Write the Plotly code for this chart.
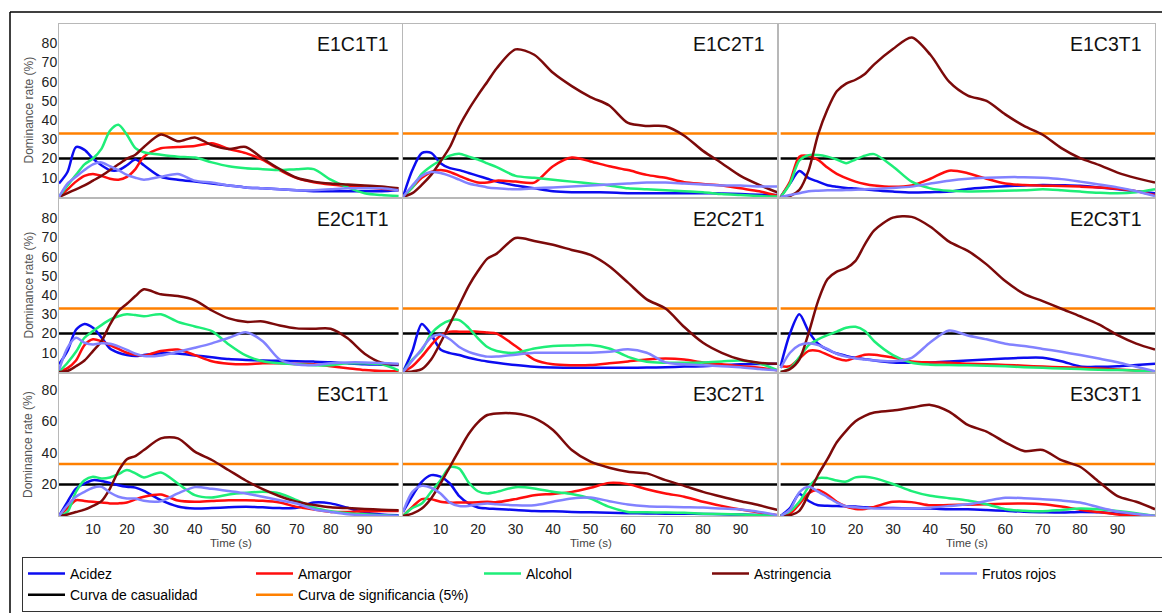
import plotly.graph_objects as go

# ---------------- data ----------------
TIME = [0, 2.5, 5, 7.5, 10, 12.5, 15, 17.5, 20, 22.5, 25, 30, 35, 40, 45,
        50, 55, 60, 65, 70, 75, 80, 85, 90, 95, 100]

SERIES = ["Acidez", "Amargor", "Alcohol", "Astringencia", "Frutos rojos"]
CHANCE_NAME = "Curva de casualidad"
SIGNIF_NAME = "Curva de significancia (5%)"
CHANCE_LEVEL = 20
SIGNIF_LEVEL = 33

PANELS = [["E1C1T1", "E1C2T1", "E1C3T1"],
          ["E2C1T1", "E2C2T1", "E2C3T1"],
          ["E3C1T1", "E3C2T1", "E3C3T1"]]

Y_TICKS_TOP = [10, 20, 30, 40, 50, 60, 70, 80]
Y_TICKS_BOTTOM = [20, 40, 60, 80]
X_TICKS = [10, 20, 30, 40, 50, 60, 70, 80, 90]

E1C1T1_ACIDEZ = [7, 13, 26, 24.5, 20, 16.5, 14, 14, 16.5, 19.5, 16.5, 10.5, 9, 8, 7, 6, 5, 4.5, 4, 3.5, 3, 3, 3, 3, 3, 3.5]
E1C1T1_AMARGOR = [0, 4, 8, 11, 12, 11, 9.5, 9, 10.5, 14.5, 21, 25.4, 26, 26.5, 28, 25, 22.8, 19.3, 14, 9.8, 7.7, 6.5, 5.7, 5, 4.3, 3.7]
E1C1T1_ALCOHOL = [0, 6, 11.5, 17, 20, 25, 34.5, 37.6, 32.4, 25.4, 23.3, 22, 21, 20.5, 18, 16, 15, 14.5, 14, 14.5, 14.5, 9, 5, 2, 1, 0.5]
E1C1T1_ASTRINGENCIA = [0, 2, 4, 6, 8.5, 11, 14, 17, 20, 22, 26, 32.5, 29, 31, 27, 25, 26, 20, 14.5, 10, 8, 7, 6.5, 6, 5.5, 4.5]
E1C1T1_FRUTOS = [0, 7, 10.5, 14, 17, 18, 16, 14, 11.5, 10, 9, 10.5, 12, 8.5, 7.5, 6, 5, 4.5, 4, 3.5, 3.5, 4, 4.5, 4.5, 4.5, 3.5]

E1C2T1_ACIDEZ = [0, 14, 22.8, 23, 17.6, 15, 14, 12.5, 11, 9.5, 8, 6, 4.5, 3, 2.5, 2.5, 2.3, 2, 2, 2, 2, 2, 1.8, 1.5, 1.2, 1]
E1C2T1_AMARGOR = [0, 5, 10, 13, 14, 13, 11, 9, 7.5, 7.5, 8.5, 8, 7.5, 16, 20.5, 18.5, 16, 14, 11.5, 10, 7.7, 6.8, 6, 4.5, 3, 0.5]
E1C2T1_ALCOHOL = [0, 5, 12, 16, 19, 21.5, 22.5, 21, 19.5, 17.5, 15.5, 11, 10, 9, 8, 7, 6, 4.5, 4, 3.5, 3, 2.5, 1.5, 1, 0.5, 0.2]
E1C2T1_ASTRINGENCIA = [0, 2, 6.3, 11.5, 18.5, 26, 36.8, 45.5, 53, 60, 67, 76.8, 74, 64.6, 57.7, 52, 47.6, 38.5, 37, 36.8, 31.9, 24, 17.6, 11, 6.3, 2.3]
E1C2T1_FRUTOS = [0, 6, 11, 13, 12.5, 11, 9, 7, 6, 5, 4.5, 4, 4.5, 5, 5.5, 6, 6.5, 7, 7.5, 7.5, 7, 6.5, 6, 6, 5.5, 5.5]

E1C3T1_ACIDEZ = [0, 7, 13.5, 9.8, 8, 6.1, 5.3, 4.7, 4.4, 4, 3.5, 2.8, 2.3, 2.5, 2.8, 4.2, 5, 5.6, 6, 6.3, 6.1, 5.8, 5, 4, 3, 1.9]
E1C3T1_AMARGOR = [0, 8, 21, 21.4, 19.3, 15.3, 12, 9.8, 8, 6.8, 6, 5.3, 6, 9.5, 13.7, 12.4, 9.5, 7, 6.2, 5.9, 5.7, 5.4, 5, 4.3, 3, 1]
E1C3T1_ALCOHOL = [0, 7, 19, 21.8, 21.8, 21, 19.5, 17.6, 19.5, 21.5, 22.3, 15.9, 8, 4.5, 3.2, 2.9, 3, 3.2, 3.5, 4, 3.5, 2.8, 2.2, 1.9, 2.5, 4]
E1C3T1_ASTRINGENCIA = [0, 0.5, 3.7, 14, 32.4, 45.5, 55, 59, 61, 64, 69, 77, 83, 74, 60, 52.8, 50, 43, 37, 32.4, 25.4, 20.2, 16.7, 12.7, 9.8, 7.5]
E1C3T1_FRUTOS = [0, 1, 2, 3, 3.3, 3.5, 3.5, 3.6, 3.8, 4, 4.2, 4.7, 5.4, 7, 8.5, 9.5, 10, 10.3, 10.3, 10, 9.3, 8, 6.5, 5, 3, 0.5]

E2C1T1_ACIDEZ = [4, 11, 22, 25, 23, 18, 12.2, 10, 8.8, 8.3, 8.8, 9.8, 9.6, 8.6, 7.7, 6.7, 6.3, 6, 5.8, 5.6, 5.4, 5.1, 4.5, 4, 3.8, 3.6]
E2C1T1_AMARGOR = [0, 2, 6, 14, 17, 16, 14, 12, 10, 9, 8.5, 10.9, 11.7, 8.8, 5.6, 4.3, 4, 4.5, 4.5, 4.2, 4, 3, 2, 1, 0.5, 0.4]
E2C1T1_ALCOHOL = [0, 4.8, 10.5, 17.8, 21.3, 24.4, 27.2, 29, 30, 29.6, 29, 30, 26.1, 23.7, 21.3, 14.3, 8.6, 5.6, 4.5, 4, 3.5, 3.5, 4.5, 4.5, 4, 0.8]
E2C1T1_ASTRINGENCIA = [0, 0.5, 3, 6, 10.9, 16, 24.7, 31.7, 35.5, 39.5, 43, 40.4, 39.5, 37.3, 32, 27.9, 26.1, 26.3, 24.2, 22.7, 22.5, 22.5, 17.5, 9.5, 4.8, 3.9]
E2C1T1_FRUTOS = [1, 12.6, 17.8, 15.2, 14.3, 15, 14.7, 13.3, 11.5, 9.5, 8.3, 8.6, 10.5, 12.6, 14.9, 17.8, 20.7, 16, 6.5, 3.9, 3.6, 4.5, 5, 5, 4.7, 4.3]

E2C2T1_ACIDEZ = [0, 10.9, 25, 19.5, 11.7, 9.8, 8.8, 7.4, 6.3, 5.5, 4.8, 3.6, 2.7, 2.3, 2.2, 2.2, 2.2, 2.2, 2.3, 2.5, 2.8, 3, 3.5, 4, 4.2, 4.3]
E2C2T1_AMARGOR = [0, 3, 8, 14, 19, 21, 21, 21, 21, 20.5, 20, 13.5, 6.5, 4, 3.5, 3.6, 4.5, 5.5, 6.5, 7, 6.5, 5, 4, 3, 2.2, 0.8]
E2C2T1_ALCOHOL = [0, 6.5, 11.2, 19.9, 24.4, 26.8, 27, 23, 17.5, 13, 10.9, 10, 12.2, 13.5, 13.8, 14, 12.2, 7.9, 5.3, 4.8, 4.8, 5, 5.5, 6, 4.5, 0.8]
E2C2T1_ASTRINGENCIA = [0, 0.3, 1.5, 6.5, 15.2, 25, 34.8, 44.7, 52.5, 59, 61.6, 69.7, 68.2, 66.2, 63.5, 60.9, 55, 46.5, 37.8, 33, 23.4, 15.2, 10, 6.5, 4.8, 4.3]
E2C2T1_FRUTOS = [0, 6, 12, 18, 19.5, 17, 13, 10.5, 9, 8, 8, 9, 10, 10, 10, 10, 10.5, 11.8, 10, 5, 4, 3.5, 3, 2.5, 1.5, 0.8]

E2C3T1_ACIDEZ = [3, 20, 30, 21, 14.7, 11.7, 9.6, 8.4, 7.4, 6.7, 6, 5, 4.8, 5, 5.5, 6, 6.5, 7, 7.4, 7.4, 5.6, 2.9, 2.7, 3, 3.7, 4.3]
E2C3T1_AMARGOR = [3, 3, 7, 11, 11, 9, 7, 6, 7.5, 9, 9, 7.5, 5.5, 5, 4.8, 4.3, 4, 3.7, 3.3, 2.8, 2.5, 2.2, 1.8, 1.3, 0.8, 0.4]
E2C3T1_ALCOHOL = [0, 2, 7.7, 14, 17, 19.2, 21, 23, 23.5, 21.3, 16, 8.8, 4.8, 3.8, 3.6, 3.5, 3.3, 3, 2.5, 2.2, 1.8, 1.5, 1.2, 1, 0.7, 0.4]
E2C3T1_ASTRINGENCIA = [0, 1.5, 6.5, 20.4, 36.9, 48.2, 52.2, 54, 57.8, 66.4, 73.7, 80.3, 80.7, 75.6, 67.8, 63, 56, 47.3, 40.7, 36.9, 32.9, 29, 24.8, 19.2, 14.8, 11.7]
E2C3T1_FRUTOS = [2, 10, 14, 15, 14, 12, 9.5, 8, 7, 6.5, 6, 5.6, 7.4, 15.5, 21.6, 19, 17, 14.7, 13.5, 12, 10.5, 8.8, 7, 5.1, 2.7, 0.4]

E3C1T1_ACIDEZ = [0, 9, 17.4, 20.6, 22.7, 22.2, 21, 19.5, 18.5, 18, 16, 10, 6, 4.7, 5, 5.5, 5.8, 5.5, 5, 5.2, 8.5, 8, 5.2, 2.2, 1, 0.5]
E3C1T1_AMARGOR = [0, 5, 10, 9.5, 9, 8.5, 8, 8, 8.5, 10.5, 12.2, 13.6, 9.8, 9, 9.5, 10, 10, 9.6, 8.5, 5.8, 4.1, 2.6, 2.6, 3, 3.1, 3.2]
E3C1T1_ALCOHOL = [0, 2.6, 15.3, 22.7, 24.9, 23.8, 24.4, 26.5, 29.1, 27, 24.4, 27.6, 20.6, 13.2, 11.7, 13.6, 14.7, 15.3, 14.3, 10, 5.2, 3, 1.8, 1.1, 0.5, 0]
E3C1T1_ASTRINGENCIA = [0, 1, 2.5, 4, 6.4, 9.4, 17.4, 28.5, 36, 38, 41.8, 49.2, 49.2, 40.8, 35.5, 29, 22.5, 17, 12.5, 9, 7, 5.5, 5, 4.5, 4, 3.7]
E3C1T1_FRUTOS = [0, 6.8, 12.2, 15.3, 17.9, 18.5, 14.9, 12.2, 11.1, 11.1, 9.6, 9.4, 14.3, 18.3, 17.2, 15.8, 14.3, 12.2, 10, 7.9, 4.3, 2.6, 1.1, 0.5, 0.2, 0]

E3C2T1_ACIDEZ = [2.6, 12.8, 21.7, 25.9, 24.9, 20.6, 12.6, 7.9, 5.4, 4.8, 4.5, 3.8, 3.2, 3, 2.6, 2.3, 2, 1.8, 1.6, 1.5, 1.4, 1.3, 1.1, 0.9, 0.7, 0.5]
E3C2T1_AMARGOR = [0, 5.8, 10.7, 10.7, 9, 8.5, 8.5, 8.5, 8.7, 9, 8.8, 10.7, 13.2, 14, 15.3, 17.9, 21, 20.2, 17, 14.3, 12.2, 9, 6.4, 4.1, 2.2, 0.5]
E3C2T1_ALCOHOL = [0, 5.1, 7.9, 15.3, 22.7, 31, 30, 21.2, 15.7, 14.3, 15.3, 18.3, 17.5, 15.3, 14, 11.1, 5.8, 2.6, 2.3, 2.2, 2, 1.5, 1.2, 0.9, 0.5, 0]
E3C2T1_ASTRINGENCIA = [0, 1.5, 4.7, 11.1, 20.6, 31.2, 41.8, 52, 59.4, 64, 65, 64.9, 62, 54.5, 41.8, 34.4, 30.6, 28, 27, 22.7, 19.1, 15.3, 12.2, 9.4, 6.8, 3.7]
E3C2T1_FRUTOS = [2.6, 15.3, 19.1, 17.9, 14.3, 8.5, 6.4, 6.4, 7.3, 7.9, 7.5, 6.8, 6.8, 9, 11.1, 11.7, 9.4, 7.3, 6.2, 5.8, 5.6, 5.4, 4.7, 4.1, 2.6, 0.5]

E3C3T1_ACIDEZ = [0, 5, 14, 9.5, 6.8, 6.5, 6.3, 6.2, 6, 5.5, 5.2, 5, 4.8, 4.7, 4.3, 4.2, 3.8, 3.3, 2.7, 2.4, 2.2, 2.5, 2.3, 1.5, 0.8, 0]
E3C3T1_AMARGOR = [0, 1.5, 7.5, 14.5, 16.5, 13.5, 9, 6, 4.5, 4.5, 5.8, 9, 8.8, 6.8, 7, 7.2, 7.5, 7.8, 7.9, 7.5, 6, 4, 2.5, 1, 0.3, 0]
E3C3T1_ALCOHOL = [0, 3, 9, 18.5, 24, 24, 22.5, 21.8, 24.5, 24.8, 24, 20.3, 15.8, 12.8, 11.3, 9.8, 7.5, 4.3, 3.3, 3, 3.8, 4.7, 4.2, 3.2, 1.8, 0]
E3C3T1_ASTRINGENCIA = [0, 0.5, 3.3, 14, 26, 36, 46.7, 54, 60, 63.5, 65.6, 66.8, 68.7, 70.4, 66.2, 57.7, 53.5, 46.7, 41.2, 41.8, 35.4, 31.2, 21.7, 12.6, 9, 4.3]
E3C3T1_FRUTOS = [0, 4, 15, 18.5, 15.5, 12, 8.5, 6.2, 5.5, 5, 4.7, 4.7, 4.8, 5.3, 6.3, 7.4, 9.5, 11.5, 11.3, 10.6, 9.8, 8.5, 5.5, 2.8, 1.2, 0]

PANEL_DATA = {
    "E1C1T1": [E1C1T1_ACIDEZ, E1C1T1_AMARGOR, E1C1T1_ALCOHOL, E1C1T1_ASTRINGENCIA, E1C1T1_FRUTOS],
    "E1C2T1": [E1C2T1_ACIDEZ, E1C2T1_AMARGOR, E1C2T1_ALCOHOL, E1C2T1_ASTRINGENCIA, E1C2T1_FRUTOS],
    "E1C3T1": [E1C3T1_ACIDEZ, E1C3T1_AMARGOR, E1C3T1_ALCOHOL, E1C3T1_ASTRINGENCIA, E1C3T1_FRUTOS],
    "E2C1T1": [E2C1T1_ACIDEZ, E2C1T1_AMARGOR, E2C1T1_ALCOHOL, E2C1T1_ASTRINGENCIA, E2C1T1_FRUTOS],
    "E2C2T1": [E2C2T1_ACIDEZ, E2C2T1_AMARGOR, E2C2T1_ALCOHOL, E2C2T1_ASTRINGENCIA, E2C2T1_FRUTOS],
    "E2C3T1": [E2C3T1_ACIDEZ, E2C3T1_AMARGOR, E2C3T1_ALCOHOL, E2C3T1_ASTRINGENCIA, E2C3T1_FRUTOS],
    "E3C1T1": [E3C1T1_ACIDEZ, E3C1T1_AMARGOR, E3C1T1_ALCOHOL, E3C1T1_ASTRINGENCIA, E3C1T1_FRUTOS],
    "E3C2T1": [E3C2T1_ACIDEZ, E3C2T1_AMARGOR, E3C2T1_ALCOHOL, E3C2T1_ASTRINGENCIA, E3C2T1_FRUTOS],
    "E3C3T1": [E3C3T1_ACIDEZ, E3C3T1_AMARGOR, E3C3T1_ALCOHOL, E3C3T1_ASTRINGENCIA, E3C3T1_FRUTOS],
}

# ---------------- style ----------------
PAGE_W, PAGE_H = 1170, 613
OFF = 8  # default page body margin of the html page
W, H = PAGE_W - OFF, PAGE_H - OFF
COLORS = ["#0c0cf0", "#ff0d0d", "#1eee78", "#7c0a0a", "#8282ff"]
CHANCE_COLOR = "#000000"
SIGNIF_COLOR = "#ff8000"
LINE_W = 2.5
FONT = "Liberation Sans, Arial, sans-serif"
FRAME = "#b8b8b8"

# panel frames, in page pixels
COL_PX = [(59, 402), (403, 778), (778, 1155)]
ROW_PX = [(24, 197), (199, 372), (374, 516)]
X_RANGES = [[0, 101], [0, 100], [-0.7, 100]]


def px(xp):
    return (xp - OFF) / W


def py(yp):
    return 1 - (yp - OFF) / H


fig = go.Figure()
layout = {}
annotations = []

for r in range(3):
    for c in range(3):
        k = r * 3 + c
        sfx = "" if k == 0 else str(k + 1)
        xname, yname = "x" + sfx, "y" + sfx
        panel = PANELS[r][c]
        first = (k == 0)

        # reference lines
        fig.add_trace(go.Scatter(
            x=[0, 100], y=[CHANCE_LEVEL, CHANCE_LEVEL], mode="lines",
            line=dict(color=CHANCE_COLOR, width=LINE_W),
            name=CHANCE_NAME, legendgroup="chance", showlegend=first,
            legendrank=6, xaxis=xname, yaxis=yname))
        fig.add_trace(go.Scatter(
            x=[0, 100], y=[SIGNIF_LEVEL, SIGNIF_LEVEL], mode="lines",
            line=dict(color=SIGNIF_COLOR, width=LINE_W),
            name=SIGNIF_NAME, legendgroup="signif", showlegend=first,
            legendrank=7, xaxis=xname, yaxis=yname))

        for i, (name, vals) in enumerate(zip(SERIES, PANEL_DATA[panel])):
            fig.add_trace(go.Scatter(
                x=TIME, y=vals, mode="lines",
                line=dict(color=COLORS[i], width=LINE_W, shape="spline", smoothing=0.8),
                name=name, legendgroup=name, showlegend=first,
                legendrank=i + 1, xaxis=xname, yaxis=yname))

        bottom = (r == 2)
        left = (c == 0)
        layout["xaxis" + sfx] = dict(
            domain=[px(COL_PX[c][0]), px(COL_PX[c][1])], range=X_RANGES[c], anchor=yname,
            showgrid=False, zeroline=False, showline=True, mirror=True,
            linecolor=FRAME, linewidth=1, ticks="",
            tickvals=X_TICKS, showticklabels=bottom,
            tickfont=dict(family=FONT, size=14, color="#222"))
        layout["yaxis" + sfx] = dict(
            domain=[py(ROW_PX[r][1]), py(ROW_PX[r][0])], range=[0, 90], anchor=xname,
            showgrid=False, zeroline=False, showline=True, mirror=True,
            linecolor=FRAME, linewidth=1, ticks="",
            tickvals=Y_TICKS_BOTTOM if bottom else Y_TICKS_TOP,
            showticklabels=left, ticklabelstandoff=-2,
            tickfont=dict(family=FONT, size=14, color="#222"))

        # panel label
        annotations.append(dict(
            text=panel, xref=xname + " domain", yref=yname + " domain",
            x=1, y=1, xanchor="right", yanchor="top", xshift=-11, yshift=-7,
            showarrow=False, font=dict(family=FONT, size=19.5, color="#111")))

        if left:
            annotations.append(dict(
                text="Dominance rate (%)", xref="paper", yref="paper",
                x=px(28), y=py((ROW_PX[r][0] + ROW_PX[r][1]) / 2),
                xanchor="center", yanchor="middle", textangle=-90,
                showarrow=False, font=dict(family=FONT, size=12, color="#555")))
        if bottom:
            annotations.append(dict(
                text="Time (s)", xref="paper", yref="paper",
                x=px((COL_PX[c][0] + COL_PX[c][1]) / 2), y=py(543),
                xanchor="center", yanchor="middle",
                showarrow=False, font=dict(family=FONT, size=11.5, color="#444")))

shapes = [
    # outer frame (top and left edges)
    dict(type="line", xref="paper", yref="paper", x0=px(10), x1=1.0,
         y0=py(12), y1=py(12), line=dict(color="#000", width=1.5)),
    dict(type="line", xref="paper", yref="paper", x0=px(10), x1=px(10),
         y0=py(12), y1=0, line=dict(color="#000", width=1.5)),
    # legend drop shadow
    dict(type="rect", xref="paper", yref="paper", x0=px(25), x1=px(1168),
         y0=py(609), y1=py(560), fillcolor="#777", line=dict(width=0),
         layer="below"),
]

fig.update_layout(
    width=W, height=H, autosize=False,
    margin=dict(l=0, r=0, t=0, b=0, autoexpand=False),
    paper_bgcolor="white", plot_bgcolor="white",
    showlegend=True,
    legend=dict(orientation="h", x=px(22), xanchor="left",
                y=py(557), yanchor="top",
                bgcolor="white", bordercolor="#333", borderwidth=1,
                font=dict(family=FONT, size=14, color="#000"),
                itemwidth=37, entrywidth=176, entrywidthmode="pixels",
                traceorder="normal", tracegroupgap=0),
    annotations=annotations,
    shapes=shapes,
    **layout,
)

fig.write_html("out.html")
